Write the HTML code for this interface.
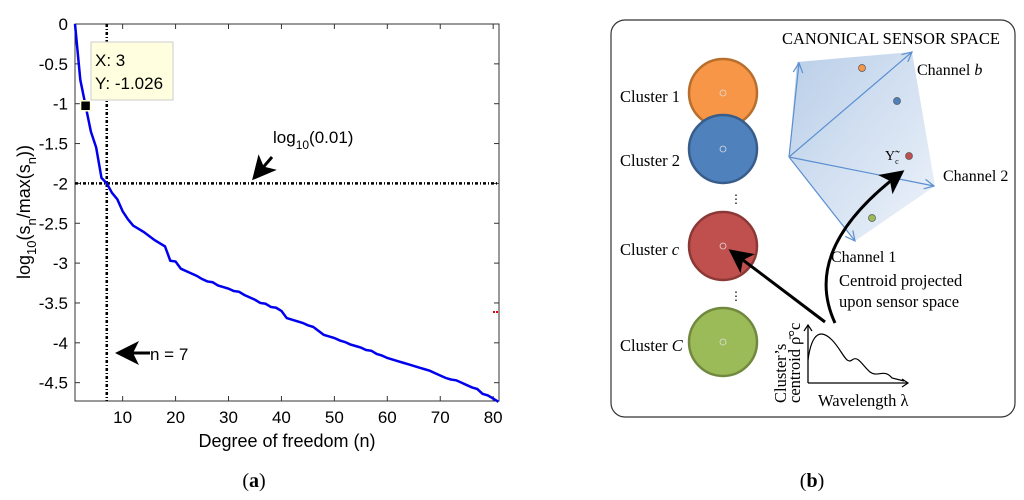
<!DOCTYPE html>
<html><head><meta charset="utf-8"><style>
body{margin:0;background:#fff;}
svg{display:block;}
.t{font-family:"Liberation Sans",sans-serif;}
.s{font-family:"Liberation Serif",serif;}
</style></head><body>
<svg width="1024" height="500" viewBox="0 0 1024 500">
<defs>
<linearGradient id="pg" x1="0" y1="0" x2="1" y2="1">
<stop offset="0" stop-color="#7fa6d6" stop-opacity="0.55"/><stop offset="1" stop-color="#dbe6f5" stop-opacity="0.5"/></linearGradient>
<marker id="ah" markerWidth="8" markerHeight="8" refX="7" refY="4" orient="auto"><path d="M0,0 L8,4 L0,8 L2,4 Z" fill="#000"/></marker>
<marker id="bh" markerWidth="10" markerHeight="10" refX="9" refY="5" orient="auto"><path d="M1,1 L9,5 L1,9" fill="none" stroke="#5b8fd0" stroke-width="1"/></marker>
</defs>
<g id="chart"></g>
<text class="s" x="254" y="487" font-size="20" text-anchor="middle">(<tspan font-weight="bold">a</tspan>)</text>

<g>
<rect x="611" y="20" width="404" height="397" rx="14" fill="#fff" stroke="#333" stroke-width="1.2"/>
<text class="s" x="782" y="44" font-size="16.5">CANONICAL SENSOR SPACE</text>
<polygon points="789,157 797,62 912,52 935,186 855,241" fill="url(#pg)"/>
<g stroke="#5b8fd0" stroke-width="1.2" fill="none">
<line x1="789" y1="157" x2="799" y2="63" marker-end="url(#bh)"/>
<line x1="789" y1="157" x2="912" y2="52" marker-end="url(#bh)"/>
<line x1="789" y1="157" x2="934" y2="186" marker-end="url(#bh)"/>
<line x1="789" y1="157" x2="855" y2="241" marker-end="url(#bh)"/>
</g>
<text class="s" x="917" y="75" font-size="16">Channel <tspan font-style="italic">b</tspan></text>
<text class="s" x="943" y="181" font-size="16">Channel 2</text>
<text class="s" x="831" y="262" font-size="16">Channel 1</text>
<circle cx="862" cy="68" r="3.5" fill="#f79646" stroke="#555" stroke-width="0.7"/>
<circle cx="897" cy="101" r="3.5" fill="#4f81bd" stroke="#555" stroke-width="0.7"/>
<circle cx="909" cy="156" r="3.5" fill="#c0504d" stroke="#555" stroke-width="0.7"/>
<circle cx="872" cy="218" r="3.5" fill="#9bbb59" stroke="#555" stroke-width="0.7"/>
<text class="s" x="885" y="160" font-size="14">Υ̃<tspan font-size="8" dy="4">c</tspan></text>
<g>
<circle cx="723" cy="93" r="34" fill="#f79646" stroke="#b86f2e" stroke-width="2.5"/>
<circle cx="723" cy="149" r="34" fill="#4f81bd" stroke="#385d8a" stroke-width="2.5"/>
<circle cx="723" cy="246" r="34" fill="#c0504d" stroke="#8c3836" stroke-width="2.5"/>
<circle cx="723" cy="342" r="34" fill="#9bbb59" stroke="#71893f" stroke-width="2.5"/>
<g fill="none" stroke="#ddd" stroke-width="0.8"><circle cx="723" cy="93" r="3"/><circle cx="723" cy="149" r="3"/><circle cx="723" cy="246" r="3"/><circle cx="723" cy="342" r="3"/></g>
</g>
<text class="s" x="730" y="203" font-size="12">⋮</text>
<text class="s" x="730" y="300" font-size="12">⋮</text>
<g class="s" font-size="16.5">
<text x="620" y="102">Cluster 1</text>
<text x="620" y="166">Cluster 2</text>
<text x="620" y="255">Cluster <tspan font-style="italic">c</tspan></text>
<text x="620" y="351">Cluster <tspan font-style="italic">C</tspan></text>
<text x="839" y="286">Centroid projected</text>
<text x="839" y="307">upon sensor space</text>
<text x="818" y="406">Wavelength λ</text>
<text transform="translate(786,403) rotate(-90)">Cluster’s</text>
<text transform="translate(800,403) rotate(-90)">centroid ρ̄°c</text>
</g>
<path d="M808,383 L808,325 M808,383 L908,383" stroke="#000" stroke-width="1.3" fill="none"/>
<path d="M804,331 L808,325 L812,331 M902,379 L908,383 L902,387" stroke="#000" stroke-width="1.2" fill="none"/>
<path d="M808,360 C812,330 822,330 832,340 C842,350 846,365 852,360 C858,355 862,365 870,372 C878,378 884,368 892,378 L904,381" stroke="#000" stroke-width="1.2" fill="none"/>
<line x1="825" y1="322" x2="731" y2="251" stroke="#000" stroke-width="3" marker-end="url(#ah)"/>
<path d="M835,323 C815,280 825,230 902,172" stroke="#000" stroke-width="3" fill="none" marker-end="url(#ah)"/>
</g>
<text class="s" x="812" y="487" font-size="20" text-anchor="middle">(<tspan font-weight="bold">b</tspan>)</text>
</svg>
<script>
const xTicks=[10,20,30,40,50,60,70,80];
const yTicks=[0,-0.5,-1,-1.5,-2,-2.5,-3,-3.5,-4,-4.5];
const yTickLabels=["0","-0.5","-1","-1.5","-2","-2.5","-3","-3.5","-4","-4.5"];
const nValues=[1,2,3,4,5,6,7,8,9,10,11,12,13,14,15,16,17,18,19,20,21,22,23,24,25,26,27,28,29,30,31,32,33,34,35,36,37,38,39,40,41,42,43,44,45,46,47,48,49,50,51,52,53,54,55,56,57,58,59,60,61,62,63,64,65,66,67,68,69,70,71,72,73,74,75,76,77,78,79,80,81];
const logS=[0,-0.7,-1.026,-1.35,-1.55,-1.93,-2.0,-2.12,-2.2,-2.35,-2.45,-2.53,-2.57,-2.61,-2.66,-2.71,-2.75,-2.79,-2.97,-2.98,-3.07,-3.1,-3.13,-3.16,-3.2,-3.23,-3.24,-3.28,-3.3,-3.32,-3.35,-3.36,-3.4,-3.43,-3.46,-3.5,-3.51,-3.55,-3.56,-3.6,-3.69,-3.71,-3.73,-3.75,-3.78,-3.8,-3.85,-3.9,-3.92,-3.94,-3.97,-3.99,-4.02,-4.04,-4.06,-4.09,-4.1,-4.14,-4.16,-4.19,-4.21,-4.23,-4.25,-4.27,-4.29,-4.31,-4.33,-4.35,-4.38,-4.41,-4.44,-4.46,-4.47,-4.5,-4.53,-4.56,-4.58,-4.64,-4.66,-4.7,-4.74];
const threshold=[-2];
const cutoffN=[7];
const markerPoint=[3,-1.026];
const L=75,R=499,T=24,B=401,X0=1,X1=81.1,Y0=0,Y1=-4.73;
const sx=v=>L+(v-X0)/(X1-X0)*(R-L);
const sy=v=>T+(v-Y0)/(Y1-Y0)*(B-T);
const NS="http://www.w3.org/2000/svg";
const g=document.getElementById('chart');
function mk(tag,attrs,parent){const e=document.createElementNS(NS,tag);for(const k in attrs)e.setAttribute(k,attrs[k]);(parent||g).appendChild(e);return e;}
const frame=mk('rect',{x:L,y:T,width:R-L,height:B-T,fill:'#fff',stroke:'#333','stroke-width':1});


xTicks.forEach(v=>{const x=sx(v);
mk('line',{x1:x,y1:B,x2:x,y2:B-5,stroke:'#333'});mk('line',{x1:x,y1:T,x2:x,y2:T+5,stroke:'#333'});
const t=mk('text',{x:x,y:B+22,'font-size':17,'text-anchor':'middle',class:'t'});t.textContent=v;

});
yTicks.forEach((v,i)=>{const y=sy(v);
mk('line',{x1:L,y1:y,x2:L+5,y2:y,stroke:'#333'});mk('line',{x1:R,y1:y,x2:R-5,y2:y,stroke:'#333'});
const t=mk('text',{x:L-7,y:y+6,'font-size':17,'text-anchor':'end',class:'t'});t.textContent=yTickLabels[i];

});
const hl=mk('line',{x1:L,y1:sy(threshold[0]),x2:R,y2:sy(threshold[0]),stroke:'#000','stroke-width':2.5,'stroke-dasharray':'3 2 1 2'});


const vl=mk('line',{x1:sx(cutoffN[0]),y1:T,x2:sx(cutoffN[0]),y2:B,stroke:'#000','stroke-width':2.5,'stroke-dasharray':'3 2 1 2'});


const pl=mk('polyline',{points:nValues.map((n,i)=>sx(n)+','+sy(logS[i])).join(' '),fill:'none',stroke:'#0000ee','stroke-width':2.5});


const mx=sx(markerPoint[0]),my=sy(markerPoint[1]);
const mkr=mk('rect',{x:mx-5,y:my-5,width:10,height:10,fill:'#000',stroke:'#ffffd8','stroke-width':1.5});


const tip=mk('rect',{x:91,y:42,width:82,height:58,fill:'#ffffe0',stroke:'#ccc'});


const t1=mk('text',{x:95,y:66,'font-size':17,class:'t'});t1.textContent='X: 3';


const t2=mk('text',{x:95,y:89,'font-size':17,class:'t'});t2.textContent='Y: -1.026';


const la=mk('text',{x:273,y:143,'font-size':17,class:'t'});la.innerHTML='log<tspan font-size="12" dy="6">10</tspan><tspan dy="-6">(0.01)</tspan>';


const a1=mk('line',{x1:272,y1:157,x2:254,y2:178,stroke:'#000','stroke-width':3,'marker-end':'url(#ah)'});


const a2=mk('line',{x1:150,y1:353,x2:118,y2:353,stroke:'#000','stroke-width':3,'marker-end':'url(#ah)'});


const nt=mk('text',{x:150,y:360,'font-size':17,class:'t'});nt.textContent='n = 7';


const red=mk('line',{x1:493,y1:312,x2:499,y2:312,stroke:'#e00','stroke-width':2,'stroke-dasharray':'2 1'});


const xt=mk('text',{x:287,y:447,'font-size':18,'text-anchor':'middle',class:'t'});xt.textContent='Degree of freedom (n)';


const yt=mk('text',{transform:'translate(30,212) rotate(-90)','font-size':18,'text-anchor':'middle',class:'t'});
yt.innerHTML='log<tspan font-size="13" dy="6">10</tspan><tspan dy="-6">(s</tspan><tspan font-size="13" dy="6">n</tspan><tspan dy="-6">/max(s</tspan><tspan font-size="13" dy="6">n</tspan><tspan dy="-6">))</tspan>';


</script>
</body></html>
